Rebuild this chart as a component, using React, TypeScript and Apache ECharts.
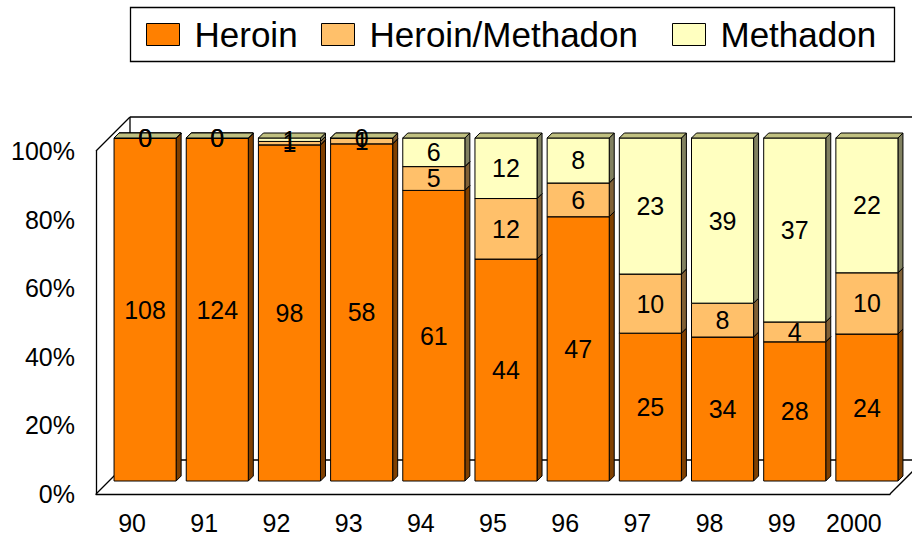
import React, { useEffect, useRef } from "react";
import * as echarts from "echarts";

const categories = ["90", "91", "92", "93", "94", "95", "96", "97", "98", "99", "2000"];
const heroin = [108, 124, 98, 58, 61, 44, 47, 25, 34, 28, 24];
const heroinMethadon = [0, 0, 1, 1, 5, 12, 6, 10, 8, 4, 10];
const methadon = [0, 0, 1, 0, 6, 12, 8, 23, 39, 37, 22];
const seriesNames = ["Heroin", "Heroin/Methadon", "Methadon"];
const yTicks = [0, 20, 40, 60, 80, 100];

const FONT = '"Liberation Sans", Arial, Helvetica, sans-serif';

// layout
const FRONT_LEFT = 96;
const FRONT_TOP = 151;
const PLOT_W = 794;
const PLOT_H = 343;
const DEPTH = 34;
const BAR_SHIFT = 13;
const BAR_DEPTH = 5;
const BAR_RATIO = 0.86;

const FRONT = ["#ff8000", "#ffc06a", "#ffffc0"];
const SIDE = ["#804000", "#806035", "#808060"];
const TOP = ["#c06000", "#c09050", "#c0c080"];

export default function App() {
  const ref = useRef<HTMLDivElement>(null);
  useEffect(() => {
    if (!ref.current) return;
    const chart = echarts.init(ref.current, null, { renderer: "svg" });
    const layers = [heroin, heroinMethadon, methadon];
    const totals = categories.map((_, i) => heroin[i] + heroinMethadon[i] + methadon[i]);
    const seriesData = layers.map((arr, li) =>
      arr.map((v, i) => {
        let start = 0;
        for (let k = 0; k < li; k++) start += layers[k][i];
        const s = (start / totals[i]) * 100;
        const e = ((start + v) / totals[i]) * 100;
        return [i, s, e, v];
      })
    );

    const makeRender = (li: number) => (params: any, api: any) => {
      const idx = api.value(0);
      const p0 = api.coord([idx, api.value(1)]);
      const p1 = api.coord([idx, api.value(2)]);
      const raw = api.value(3);
      const w = api.size([1, 0])[0] * BAR_RATIO;
      const x = p0[0] - w / 2;
      const yb = p0[1];
      const yt = p1[1];
      const d = BAR_DEPTH;
      return {
        type: "group",
        children: [
          {
            type: "polygon",
            shape: { points: [[x + w, yb], [x + w + d, yb - d], [x + w + d, yt - d], [x + w, yt]] },
            style: { fill: SIDE[li], stroke: "#000", lineWidth: 1 },
          },
          {
            type: "rect",
            shape: { x, y: yt, width: w, height: yb - yt },
            style: { fill: FRONT[li], stroke: "#000", lineWidth: 1 },
          },
          {
            type: "polygon",
            shape: { points: [[x, yt], [x + d, yt - d], [x + w + d, yt - d], [x + w, yt]] },
            style: { fill: TOP[li], stroke: "#000", lineWidth: 1 },
          },
          {
            type: "text",
            z2: 100,
            style: {
              text: String(raw),
              x: x + w / 2,
              y: (yt + yb) / 2,
              align: "center",
              verticalAlign: "middle",
              fontSize: 25,
              fontFamily: FONT,
              fill: "#000",
            },
          },
        ],
      };
    };

    const L = FRONT_LEFT, T = FRONT_TOP, R = FRONT_LEFT + PLOT_W, B = FRONT_TOP + PLOT_H;
    const lineStyle = { stroke: "#000", lineWidth: 1.3 };
    const wallLines = [
      [L, T, L + DEPTH, T - DEPTH],
      [L + DEPTH, T - DEPTH, R + DEPTH + 20, T - DEPTH],
      [L + DEPTH, T - DEPTH, L + DEPTH, B - DEPTH],
      [L, B, L + DEPTH, B - DEPTH],
      [L + DEPTH, B - DEPTH, R + DEPTH + 20, B - DEPTH],
      [R, B, R + DEPTH, B - DEPTH],
    ].map((c) => ({
      type: "line",
      z: 0,
      shape: { x1: c[0], y1: c[1], x2: c[2], y2: c[3] },
      style: lineStyle,
    }));

    const legendLefts = [141, 316, 667];

    chart.setOption({
      animation: false,
      backgroundColor: "#fff",
      grid: [
        { left: L, top: T, width: PLOT_W, height: PLOT_H },
        { left: L + BAR_SHIFT, top: T - BAR_SHIFT, width: PLOT_W, height: PLOT_H },
      ],
      legend: seriesNames.map((n, i) => ({
        data: [n],
        left: legendLefts[i],
        top: 12,
        itemWidth: 33,
        itemHeight: 22,
        icon: "rect",
        itemStyle: { borderColor: "#000", borderWidth: 1 },
        textStyle: { fontSize: 35, fontFamily: FONT, color: "#000", padding: [0, 0, 0, 10], lineHeight: 22 },
        selectedMode: false,
      })),
      xAxis: [
        {
          type: "category",
          gridIndex: 0,
          data: categories,
          axisLine: { show: true, lineStyle: { color: "#000", width: 1.3 } },
          axisTick: { show: false },
          axisLabel: { interval: 0, fontSize: 25, fontFamily: FONT, color: "#000", margin: 16 },
        },
        {
          type: "category",
          gridIndex: 1,
          data: categories,
          show: false,
        },
      ],
      yAxis: [
        {
          type: "value",
          gridIndex: 0,
          min: 0,
          max: 100,
          interval: 20,
          axisLine: { show: true, lineStyle: { color: "#000", width: 1.3 } },
          axisTick: { show: false },
          splitLine: { show: false },
          axisLabel: {
            fontSize: 25,
            fontFamily: FONT,
            color: "#000",
            margin: 21,
            formatter: (v: number) => (yTicks.includes(v) ? v + "%" : ""),
          },
        },
        { type: "value", gridIndex: 1, min: 0, max: 100, show: false },
      ],
      graphic: [
        {
          type: "rect",
          z: 0,
          shape: { x: 130.5, y: 7.5, width: 764, height: 54 },
          style: { fill: "#fff", stroke: "#000", lineWidth: 1.3 },
        },
        ...wallLines,
      ],
      series: seriesNames.map((n, li) => ({
        type: "custom",
        name: n,
        xAxisIndex: 1,
        yAxisIndex: 1,
        itemStyle: { color: FRONT[li], borderColor: "#000", borderWidth: 1 },
        encode: { x: 0, y: [1, 2] },
        data: seriesData[li],
        renderItem: makeRender(li),
      })),
    });
    return () => chart.dispose();
  }, []);
  return (
    <div
      ref={ref}
      style={{ position: "fixed", left: 0, top: 0, width: 912, height: 535 }}
    />
  );
}
